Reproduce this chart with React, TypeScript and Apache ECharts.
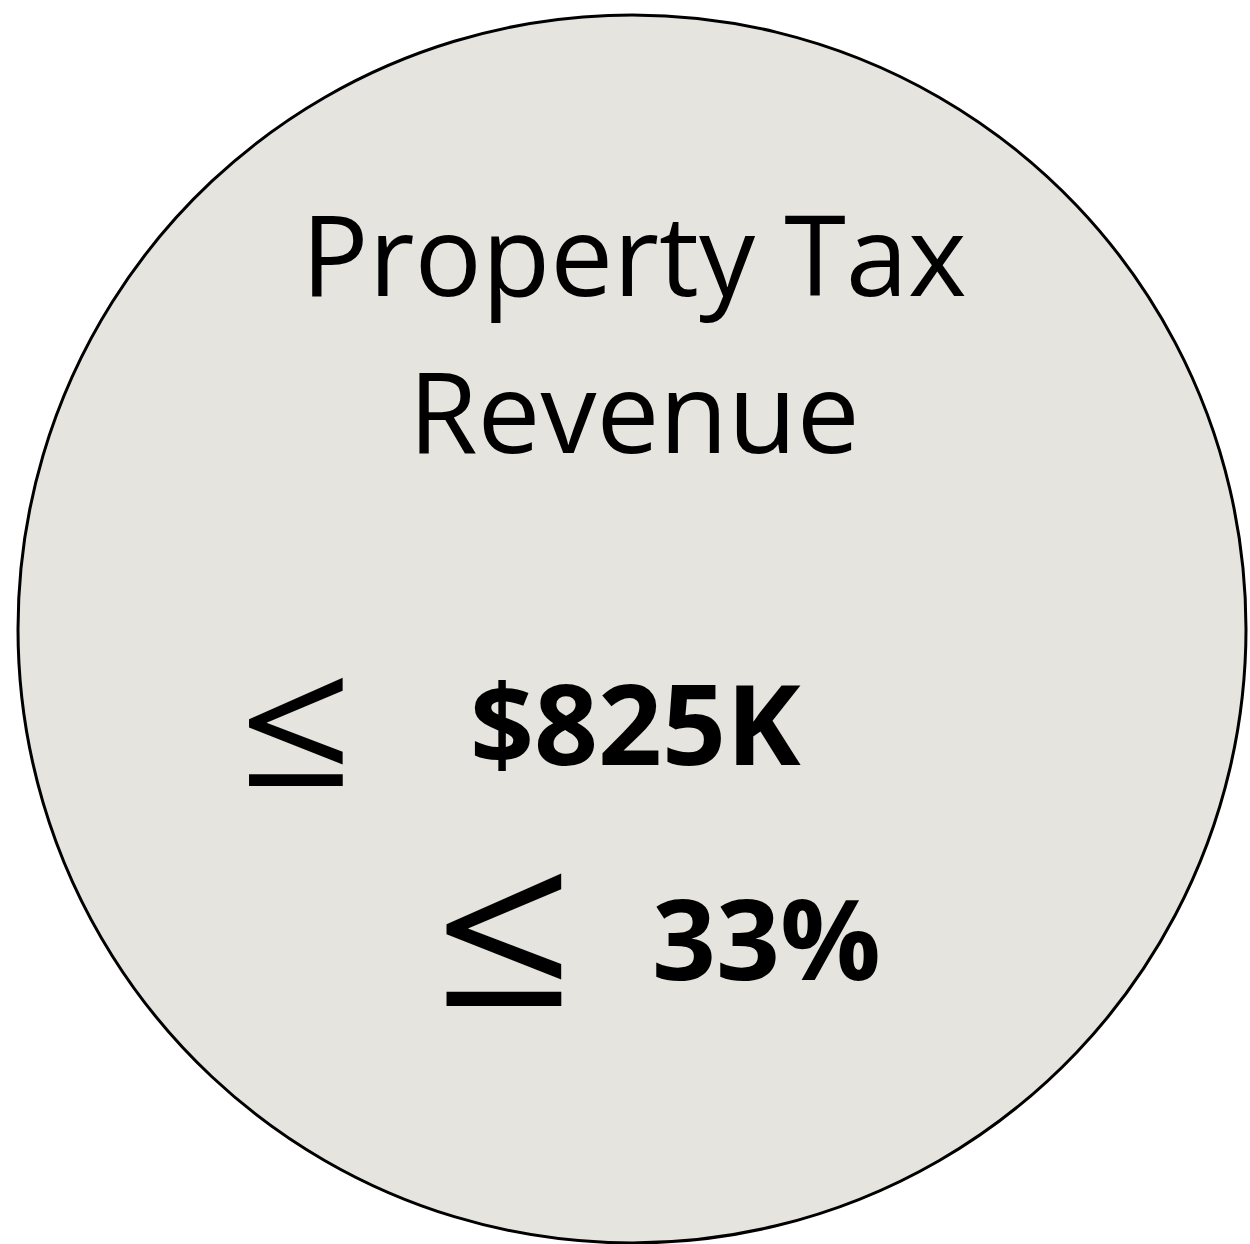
import React, { useEffect, useRef } from "react";
import * as echarts from "echarts";

const titleLines = ["Property Tax", "Revenue"];
const amountLabel = "$825K";
const shareLabel = "33%";
const symbol = "≤";

export default function App() {
  const ref = useRef<HTMLDivElement>(null);
  useEffect(() => {
    document.body.style.margin = "0";
    const chart = echarts.init(ref.current!, null, { renderer: "svg" });
    const font = "'Open Sans', sans-serif";
    chart.setOption({
      animation: false,
      backgroundColor: "#ffffff",
      graphic: [
        {
          type: "circle",
          shape: { cx: 632, cy: 629, r: 614 },
          style: { fill: "#E6E4DE", stroke: "#000000", lineWidth: 3 },
        },
        ...titleLines.map((t, i) => ({
          type: "text",
          x: 634,
          y: 252 + i * 157,
          style: {
            text: t,
            font: `400 112px ${font}`,
            fill: "#000",
            align: "center",
            verticalAlign: "middle",
          },
        })),
        {
          type: "text",
          x: 296,
          y: 717,
          scaleX: 1.12,
          style: { text: symbol, font: `400 178px ${font}`, fill: "#000", align: "center", verticalAlign: "middle" },
        },
        {
          type: "text",
          x: 470,
          y: 721,
          style: { text: amountLabel, font: `700 112px ${font}`, fill: "#000", align: "left", verticalAlign: "middle" },
        },
        {
          type: "text",
          x: 504,
          y: 922,
          scaleX: 1.12,
          style: { text: symbol, font: `400 218px ${font}`, fill: "#000", align: "center", verticalAlign: "middle" },
        },
        {
          type: "text",
          x: 652,
          y: 936,
          style: { text: shareLabel, font: `700 112px ${font}`, fill: "#000", align: "left", verticalAlign: "middle" },
        },
      ],
    });
    return () => chart.dispose();
  }, []);
  return <div ref={ref} style={{ width: 1250, height: 1244 }} />;
}
